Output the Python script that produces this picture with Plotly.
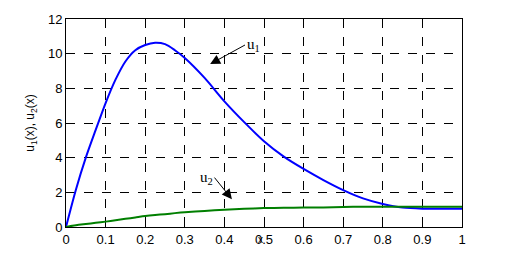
import plotly.graph_objects as go

# values
x_vals = [0, 0.025, 0.05, 0.075, 0.1, 0.125, 0.15, 0.175, 0.2, 0.225, 0.25, 0.275, 0.3, 0.35,
          0.4, 0.45, 0.5, 0.55, 0.6, 0.65, 0.7, 0.75, 0.8, 0.85, 0.9, 0.95, 1.0]
u1_vals = [0, 2.15, 4.0, 5.6, 7.15, 8.5, 9.55, 10.2, 10.5, 10.63, 10.55, 10.2, 9.75, 8.6,
           7.25, 6.05, 4.95, 4.06, 3.35, 2.71, 2.13, 1.65, 1.33, 1.12, 1.06, 1.06, 1.06]
u2_vals = [0, 0.1, 0.17, 0.24, 0.31, 0.39, 0.47, 0.55, 0.63, 0.69, 0.74, 0.8, 0.85, 0.93,
           1.0, 1.05, 1.09, 1.11, 1.12, 1.13, 1.16, 1.17, 1.17, 1.17, 1.17, 1.17, 1.17]

fig = go.Figure()
fig.add_trace(go.Scatter(x=x_vals, y=u1_vals, mode="lines",
                         line=dict(color="#0000ff", width=2, shape="spline", smoothing=0.8)))
fig.add_trace(go.Scatter(x=x_vals, y=u2_vals, mode="lines",
                         line=dict(color="#007f00", width=2, shape="spline", smoothing=0.8)))

tick_font = dict(family="Liberation Sans, Arial", size=13, color="black")
axis_common = dict(showgrid=True, gridcolor="black", griddash="dash", gridwidth=1,
                   showline=True, linecolor="black", linewidth=1, mirror=True,
                   ticks="inside", ticklen=4, tickcolor="black", zeroline=False,
                   automargin=False, tickfont=tick_font)

# page body has an 8px margin, so the figure is a bit smaller than the window
fig.update_layout(
    width=504, height=248,
    margin=dict(l=58, r=50, t=11, b=29),
    paper_bgcolor="white", plot_bgcolor="white",
    showlegend=False,
    xaxis=dict(range=[0, 1], tickvals=[0, 0.1, 0.2, 0.3, 0.4, 0.5, 0.6, 0.7, 0.8, 0.9, 1],
               ticktext=["0", "0.1", "0.2", "0.3", "0.4", "0.5", "0.6", "0.7", "0.8", "0.9", "1"],
               **axis_common),
    yaxis=dict(range=[0, 12], dtick=2,
               title=dict(text="u<sub>1</sub>(x), u<sub>2</sub>(x)", standoff=10,
                          font=dict(family="Liberation Sans, Arial", size=12, color="black")),
               **axis_common),
)

fig.add_annotation(x=0.49, y=-0.095, xref="paper", yref="paper", text="x", showarrow=False,
                   font=dict(family="Liberation Sans, Arial", size=10, color="black"))

ann_font = dict(family="Liberation Serif, Times New Roman", size=15, color="black")
fig.add_annotation(x=0.364, y=9.4, ax=0.452, ay=10.5, xref="x", yref="y", axref="x", ayref="y",
                   text="u<sub>1</sub>", showarrow=True, arrowhead=2, arrowsize=2, arrowwidth=1,
                   arrowcolor="black", xanchor="left", font=ann_font)
fig.add_annotation(x=0.419, y=1.6, ax=0.375, ay=2.85, xref="x", yref="y", axref="x", ayref="y",
                   text="u<sub>2</sub>", showarrow=True, arrowhead=2, arrowsize=2, arrowwidth=1,
                   arrowcolor="black", xanchor="right", font=ann_font)

fig.write_html("out.html")
